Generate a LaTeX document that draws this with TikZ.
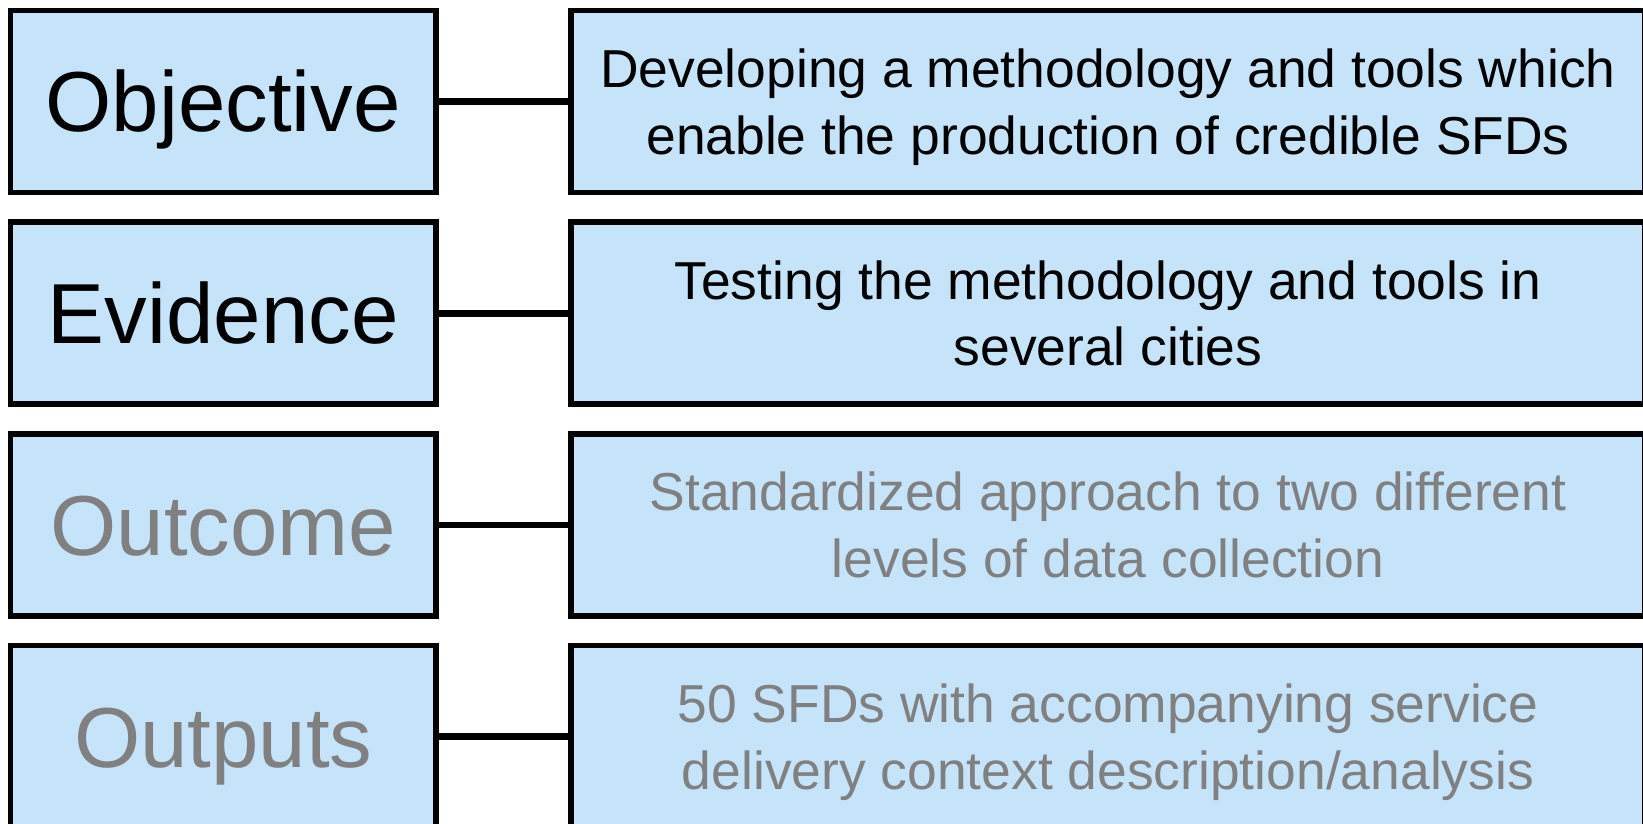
\documentclass[tikz,border=0pt]{standalone}
\usepackage{fontspec}
\setmainfont{Liberation Sans}
\usepackage{xcolor}
\usetikzlibrary{positioning}
\definecolor{boxblue}{RGB}{197,227,249}
\definecolor{fadegray}{RGB}{128,128,128}

\begin{document}
\begin{tikzpicture}[x=0.02cm, y=0.02cm,
    labelbox/.style={draw=black, fill=boxblue, line width=3.1pt, inner sep=0pt,
        minimum width=8.51cm, minimum height=3.64cm, text height=1.22cm, text depth=0pt,
        font=\fontsize{48.5}{58}\selectfont},
    textbox/.style={draw=black, fill=boxblue, line width=3.1pt, inner sep=0pt,
        minimum width=21.48cm, minimum height=3.64cm, align=center, text depth=0pt,
        font=\fontsize{30.4}{38}\selectfont},
    link/.style={line width=3.9pt}]
    % Fix the page size
    \useasboundingbox (0,0) rectangle (1643,824);

    % Label boxes (left column)
    \node[labelbox] (objective) at (223.25, 722.5) {Objective};
    \node[labelbox] (evidence) at (223.25, 510.8) {Evidence};
    \node[labelbox, text=fadegray] (outcome) at (223.25, 299) {Outcome};
    \node[labelbox, text=fadegray] (outputs) at (223.25, 87.4) {Outputs};

    % Description boxes (right column)
    \node[textbox] (objtext) at (1108, 722.5) {Developing a methodology and tools which\\enable the production of credible SFDs};
    \node[textbox] (evitext) at (1108, 510.8) {Testing the methodology and tools in\\several cities};
    \node[textbox, text=fadegray] (outctext) at (1108, 299) {Standardized approach to two different\\levels of data collection};
    \node[textbox, text=fadegray] (outptext) at (1108, 87.4) {50 SFDs with accompanying service\\delivery context description/analysis};

    % Connect each label to its description
    \foreach \a/\b in {objective/objtext, evidence/evitext, outcome/outctext, outputs/outptext}
        \draw[link] (\a.east) -- (\b.west);
\end{tikzpicture}
\end{document}
